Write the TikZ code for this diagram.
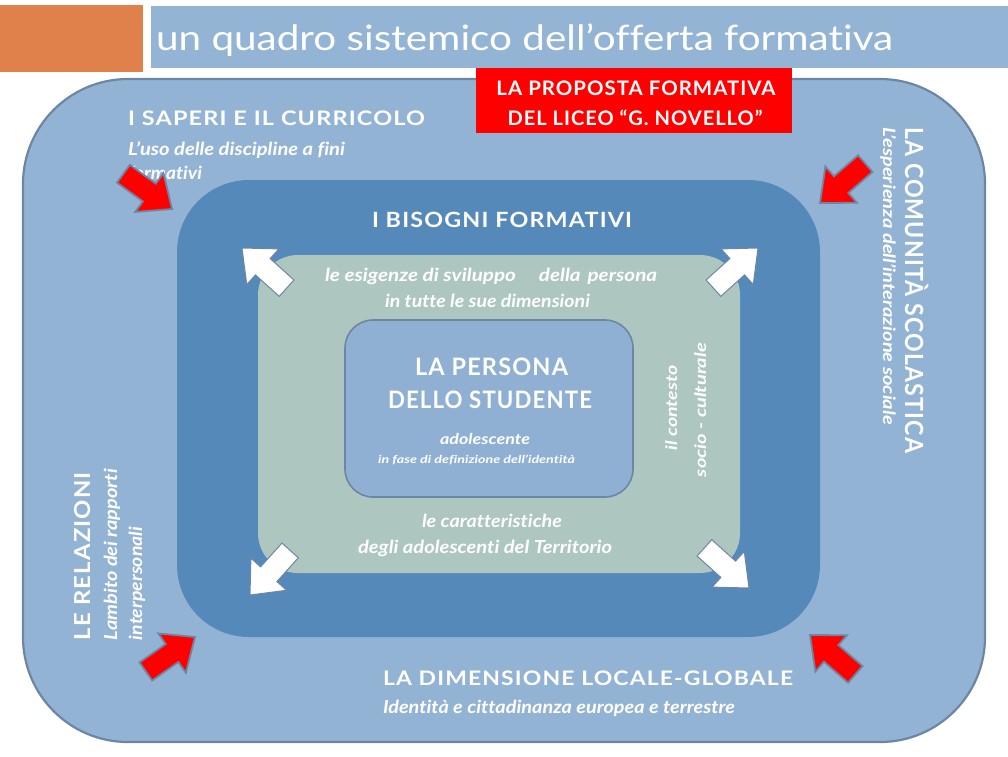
\documentclass[tikz,border=0pt]{standalone}
\usepackage{fontspec}
\usepackage{graphicx}
\setmainfont{Lato}[Ligatures=NoCommon]
\newfontfamily\hf[LetterSpace=5,Ligatures=NoCommon]{Lato}
\definecolor{outerfill}{HTML}{93B3D5}
\definecolor{midfill}{HTML}{5589BA}
\definecolor{innerfill}{HTML}{ADC7C0}
\definecolor{centerfill}{HTML}{8FB0D3}
\definecolor{edgecol}{HTML}{6D86A4}
\definecolor{accentorange}{HTML}{E0804A}
\definecolor{titlebar}{HTML}{93B4D4}
\definecolor{redbox}{HTML}{FF0000}
\newcommand{\fitw}[2]{\resizebox{#1pt}{\height}{#2}}
\newcommand{\blockarr}[4]{%
  \begin{scope}[shift={(#1,#2)},rotate=#3]
    \draw[#4] (0,0) -- (-28,24) -- (-28,11) -- (-60,11) -- (-60,-11) -- (-28,-11) -- (-28,-24) -- cycle;
  \end{scope}}
\tikzset{
  txt/.style={text=white, inner sep=0pt, outer sep=0pt},
  redarr/.style={fill=redbox, draw=edgecol, line width=1.8pt, line join=miter},
  whitearr/.style={fill=white, draw=edgecol, line width=1pt, line join=miter},
}
\begin{document}
\begin{tikzpicture}[x=1pt,y=-1pt]
\useasboundingbox (0,0) rectangle (1008,756);
% header
\fill[accentorange] (0,5) rectangle (143,72);
\fill[titlebar] (151,6) rectangle (1008,68);
\node[txt, anchor=base west] (title) at (156,50) {\fontsize{35}{35}\selectfont\fitw{737}{un quadro sistemico dell’offerta formativa}};
% nested boxes
\draw[fill=outerfill, draw=edgecol, line width=2.2pt, rounded corners=105pt] (23,79) rectangle (985,742);
\fill[midfill, rounded corners=72pt] (177,180) rectangle (820,637);
\fill[innerfill, rounded corners=40pt] (258,255) rectangle (740,573);
\draw[fill=centerfill, draw=edgecol, line width=1.6pt, rounded corners=28pt] (345,320) rectangle (633,497);
% red label
\fill[redbox] (476,68) rectangle (792,133);
\node[txt, anchor=base] (prop1) at (636,95) {\hf\bfseries\fontsize{20}{20}\selectfont\fitw{279}{LA PROPOSTA FORMATIVA}};
\node[txt, anchor=base] (prop2) at (635,125) {\hf\bfseries\fontsize{20}{20}\selectfont\fitw{255}{DEL LICEO “G. NOVELLO”}};
% top-left
\node[txt, anchor=base west] (saperi) at (128,125) {\hf\bfseries\fontsize{20}{20}\selectfont\fitw{297}{I SAPERI E IL CURRICOLO}};
\node[txt, anchor=base west] (uso) at (128,155) {\bfseries\itshape\fontsize{18}{18}\selectfont\fitw{217}{L’uso delle discipline a fini}};
\node[txt, anchor=base west] (formativi) at (128,179) {\bfseries\itshape\fontsize{18}{18}\selectfont\fitw{74}{formativi}};
% middle
\node[txt, anchor=base west] (bisogni) at (372,227) {\hf\bfseries\fontsize{21}{21}\selectfont\fitw{260}{I BISOGNI FORMATIVI}};
\node[txt, anchor=base west] (esig) at (325,281) {\bfseries\itshape\fontsize{18}{18}\selectfont\fitw{332}{le esigenze di sviluppo\hspace{20pt}della\hspace{6pt}persona}};
\node[txt, anchor=base west] (dimens) at (385,307) {\bfseries\itshape\fontsize{18}{18}\selectfont\fitw{205}{in tutte le sue dimensioni}};
\node[txt, anchor=base west] (pers1) at (415,375) {\hf\bfseries\fontsize{24}{24}\selectfont\fitw{153}{LA PERSONA}};
\node[txt, anchor=base west] (pers2) at (388,408) {\hf\bfseries\fontsize{24}{24}\selectfont\fitw{204}{DELLO STUDENTE}};
\node[txt, anchor=base west] (adol) at (440,444) {\bfseries\itshape\fontsize{15}{15}\selectfont\fitw{90}{adolescente}};
\node[txt, anchor=base west] (fase) at (378,463) {\bfseries\itshape\fontsize{11}{11}\selectfont\fitw{197}{in fase di definizione dell’identità}};
\node[txt, anchor=base west] (car1) at (422,527) {\bfseries\itshape\fontsize{18}{18}\selectfont\fitw{140}{le caratteristiche}};
\node[txt, anchor=base west] (car2) at (358,553) {\bfseries\itshape\fontsize{18}{18}\selectfont\fitw{254}{degli adolescenti del Territorio}};
\node[txt, anchor=base, rotate=90] (contesto) at (677,408) {\bfseries\itshape\fontsize{16}{16}\selectfont\fitw{85}{il contesto}};
\node[txt, anchor=base, rotate=90] (socio) at (706,410) {\bfseries\itshape\fontsize{16}{16}\selectfont\fitw{134}{socio - culturale}};
% bottom
\node[txt, anchor=base west] (locale) at (383,685) {\hf\bfseries\fontsize{20}{20}\selectfont\fitw{410}{LA DIMENSIONE LOCALE-GLOBALE}};
\node[txt, anchor=base west] (ident) at (383,713) {\bfseries\itshape\fontsize{18}{18}\selectfont\fitw{352}{Identità e cittadinanza europea e terrestre}};
% left
\node[txt, anchor=base west, rotate=90] (rel) at (90,640) {\hf\bfseries\fontsize{22}{22}\selectfont\fitw{168}{LE RELAZIONI}};
\node[txt, anchor=base west, rotate=90] (ambito) at (117,640) {\bfseries\itshape\fontsize{18}{18}\selectfont\fitw{171}{Lambito dei rapporti}};
\node[txt, anchor=base west, rotate=90] (interp) at (142,640) {\bfseries\itshape\fontsize{18}{18}\selectfont\fitw{113}{interpersonali}};
% right
\node[txt, anchor=base west, rotate=-90] (comunita) at (905,127) {\hf\bfseries\fontsize{25}{25}\selectfont\fitw{326}{LA COMUNITÀ SCOLASTICA}};
\node[txt, anchor=base west, rotate=-90] (esper) at (883,127) {\bfseries\itshape\fontsize{17}{17}\selectfont\fitw{298}{L’esperienza dell’interazione sociale}};
% red arrows (inward)
\blockarr{172}{209}{-36}{redarr}
\blockarr{820}{203}{-139}{redarr}
\blockarr{195}{637}{35}{redarr}
\blockarr{810}{635}{139}{redarr}
% white arrows (outward)
\blockarr{242}{248}{138}{whitearr}
\blockarr{758}{248}{42}{whitearr}
\blockarr{250}{595}{-132}{whitearr}
\blockarr{749}{588}{-42}{whitearr}
\end{tikzpicture}
\end{document}
